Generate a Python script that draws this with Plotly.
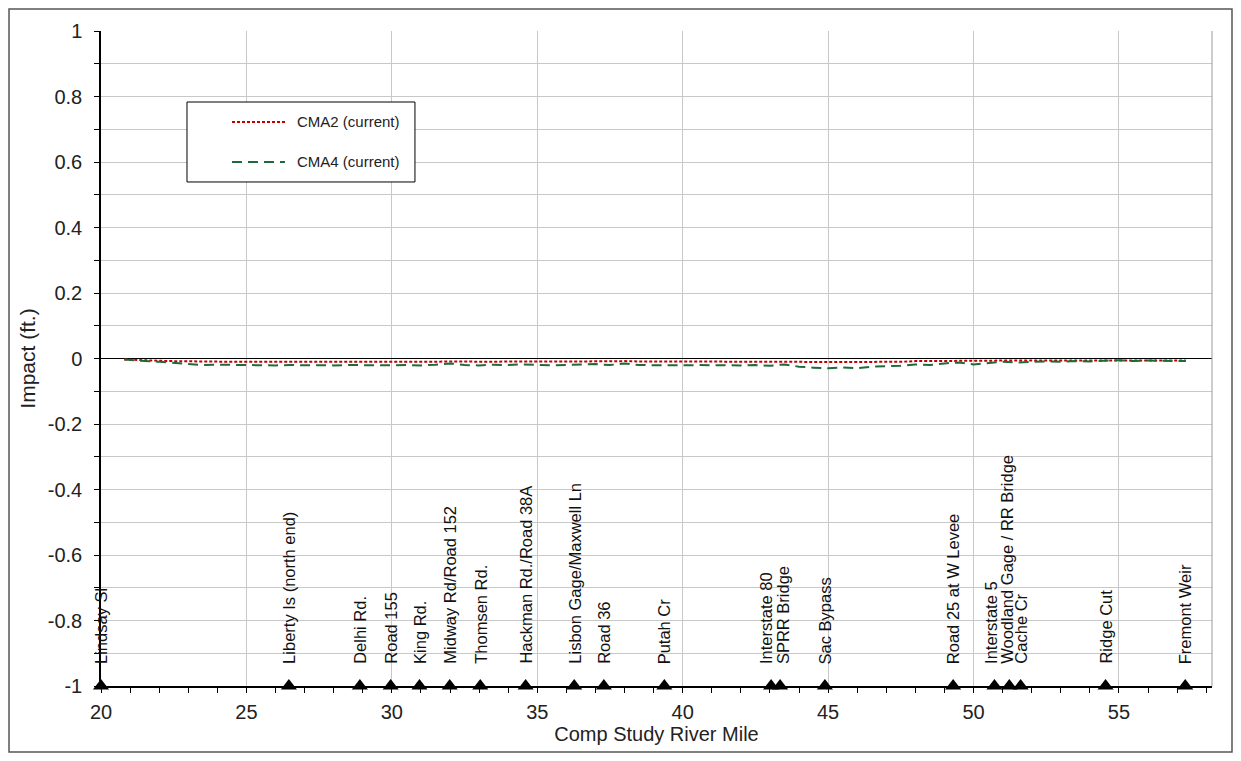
import plotly.graph_objects as go

# ---- data ----
river_mile = [20.8, 21.0, 21.5, 22.0, 22.5, 23.0, 23.5, 24.0, 24.5, 25.0, 25.5, 26.0, 26.5,
              27.0, 27.5, 28.0, 28.5, 29.0, 29.5, 30.0, 30.5, 31.0, 31.5, 32.0, 32.5, 33.0,
              33.5, 34.0, 34.5, 35.0, 35.5, 36.0, 36.5, 37.0, 37.5, 38.0, 38.5, 39.0, 39.5,
              40.0, 40.5, 41.0, 41.5, 42.0, 42.5, 43.0, 43.5, 44.0, 44.5, 45.0, 45.5, 46.0,
              46.5, 47.0, 47.5, 48.0, 48.5, 49.0, 49.5, 50.0, 50.5, 51.0, 51.5, 52.0, 52.5,
              53.0, 53.5, 54.0, 54.5, 55.0, 55.5, 56.0, 56.5, 57.0, 57.3]

cma2 = [-0.003, -0.004, -0.006, -0.007, -0.008, -0.009, -0.010, -0.009, -0.010, -0.010,
        -0.009, -0.010, -0.010, -0.009, -0.010, -0.010, -0.009, -0.010, -0.010, -0.009,
        -0.010, -0.010, -0.009, -0.008, -0.009, -0.010, -0.009, -0.010, -0.009, -0.009,
        -0.010, -0.009, -0.009, -0.008, -0.009, -0.008, -0.009, -0.009, -0.008, -0.008,
        -0.009, -0.008, -0.009, -0.008, -0.009, -0.010, -0.009, -0.010, -0.011, -0.011,
        -0.010, -0.011, -0.010, -0.009, -0.010, -0.008, -0.009, -0.008, -0.007, -0.008,
        -0.007, -0.006, -0.007, -0.006, -0.006, -0.006, -0.005, -0.006, -0.005, -0.005,
        -0.006, -0.005, -0.005, -0.006, -0.006]

cma4 = [-0.003, -0.005, -0.008, -0.010, -0.014, -0.018, -0.020, -0.019, -0.020, -0.021,
        -0.020, -0.021, -0.020, -0.021, -0.020, -0.021, -0.020, -0.021, -0.020, -0.021,
        -0.020, -0.021, -0.019, -0.015, -0.020, -0.021, -0.019, -0.020, -0.018, -0.020,
        -0.021, -0.020, -0.019, -0.017, -0.020, -0.015, -0.020, -0.021, -0.020, -0.021,
        -0.020, -0.021, -0.020, -0.021, -0.020, -0.022, -0.018, -0.025, -0.028, -0.030,
        -0.027, -0.030, -0.025, -0.024, -0.022, -0.018, -0.020, -0.015, -0.012, -0.018,
        -0.013, -0.010, -0.012, -0.010, -0.009, -0.010, -0.008, -0.009, -0.007, -0.005,
        -0.008, -0.006, -0.007, -0.008, -0.008]

series_names = ["CMA2 (current)", "CMA4 (current)"]

landmarks = ["Lindsay Sl", "Liberty Is (north end)", "Delhi Rd.", "Road 155", "King Rd.",
             "Midway Rd/Road 152", "Thomsen Rd.", "Hackman Rd./Road 38A",
             "Lisbon Gage/Maxwell Ln", "Road 36", "Putah Cr", "Interstate 80",
             "SPRR Bridge", "Sac Bypass", "Road 25 at W Levee", "Interstate 5",
             "Woodland Gage / RR Bridge", "Cache Cr", "Ridge Cut", "Fremont Weir"]
landmark_mile = [20.0, 26.46, 28.9, 29.96, 30.95, 31.99, 33.04, 34.6, 36.27, 37.29,
                 39.37, 43.04, 43.35, 44.89, 49.3, 50.72, 51.23, 51.62, 54.54, 57.28]
landmark_level = [-1.0] * len(landmarks)
label_shift = [0, 0, 0, 0, 0, 0, 0, 0, 0, 0, 0, -5, 3, 0, 0, -4, -3, 0, 0, 0]

x_ticks = [20, 25, 30, 35, 40, 45, 50, 55]
y_ticks = [1, 0.8, 0.6, 0.4, 0.2, 0, -0.2, -0.4, -0.6, -0.8, -1]
y_tick_text = ["1", "0.8", "0.6", "0.4", "0.2", "0", "-0.2", "-0.4", "-0.6", "-0.8", "-1"]

FONT = "Liberation Sans, Arial, sans-serif"
C2 = "#C00000"
C4 = "#1E6B3A"
DASH2 = "3px,2px"
DASH4 = "10px,6px"

fig = go.Figure()
fig.add_trace(go.Scatter(x=river_mile, y=cma2, mode="lines", name=series_names[0],
                         line=dict(color=C2, width=2, dash=DASH2), showlegend=False))
fig.add_trace(go.Scatter(x=river_mile, y=cma4, mode="lines", name=series_names[1],
                         line=dict(color=C4, width=2, dash=DASH4), showlegend=False))
fig.add_trace(go.Scatter(x=landmark_mile, y=landmark_level, mode="markers",
                         marker=dict(symbol="triangle-up", size=14, color="black"),
                         showlegend=False, cliponaxis=False, hoverinfo="skip"))

for name, xm, sh in zip(landmarks, landmark_mile, label_shift):
    fig.add_annotation(x=xm, y=-1, text=name, showarrow=False, textangle=-90,
                       xanchor="center", yanchor="bottom", yshift=20, xshift=sh,
                       font=dict(family=FONT, size=16.5, color="#111111"))

# legend box (drawn manually)
fig.add_shape(type="rect", xref="paper", yref="paper", x0=0.0774, x1=0.2826,
              y0=0.7695, y1=0.8916, line=dict(color="black", width=1),
              fillcolor="white", layer="above")
for yy, col, dsh, nm in [(0.8611, C2, DASH2, series_names[0]),
                         (0.8000, C4, DASH4, series_names[1])]:
    fig.add_shape(type="line", xref="paper", yref="paper", x0=0.1179, x1=0.1656,
                  y0=yy, y1=yy, line=dict(color=col, width=2, dash=dsh), layer="above")
    fig.add_annotation(x=0.1746, y=yy, xref="paper", yref="paper", text=nm,
                       showarrow=False, xanchor="left", yanchor="middle",
                       font=dict(family=FONT, size=15, color="#222222"))

# outer frame
fig.add_shape(type="rect", xref="paper", yref="paper", x0=-0.0828, x1=1.018,
              y0=-0.1008, y1=1.0336, line=dict(color="#555555", width=1.5))
# right edge of plot area
fig.add_shape(type="line", xref="paper", yref="paper", x0=1, x1=1, y0=0, y1=1,
              line=dict(color="#9a9a9a", width=1))

fig.update_layout(
    width=1225, height=745,
    margin=dict(l=93, r=21, t=23, b=67),
    paper_bgcolor="white", plot_bgcolor="white",
    font=dict(family=FONT, size=19, color="#222222"),
    showlegend=False,
    xaxis=dict(range=[20, 58.2], tickvals=x_ticks, showgrid=True, gridcolor="#c8c8c8",
               showline=True, linecolor="black", linewidth=1.5, ticks="outside",
               ticklen=5, tickcolor="black", zeroline=False,
               minor=dict(dtick=1, ticks="outside", ticklen=5, tickcolor="black",
                          showgrid=False),
               title=dict(text="Comp Study River Mile", font=dict(size=20), standoff=4),
               tickfont=dict(size=20), ticklabelstandoff=2),
    yaxis=dict(range=[-1, 1], tickvals=y_ticks, ticktext=y_tick_text,
               showgrid=True, gridcolor="#c8c8c8",
               showline=True, linecolor="black", linewidth=1.5, ticks="outside",
               ticklen=5, tickcolor="black",
               zeroline=True, zerolinecolor="black", zerolinewidth=1,
               minor=dict(dtick=0.1, ticks="outside", ticklen=5, tickcolor="black",
                          showgrid=True, gridcolor="#c8c8c8"),
               title=dict(text="Impact (ft.)", font=dict(size=21), standoff=6),
               tickfont=dict(size=20), ticklabelstandoff=8),
)

fig.write_html("out.html")
